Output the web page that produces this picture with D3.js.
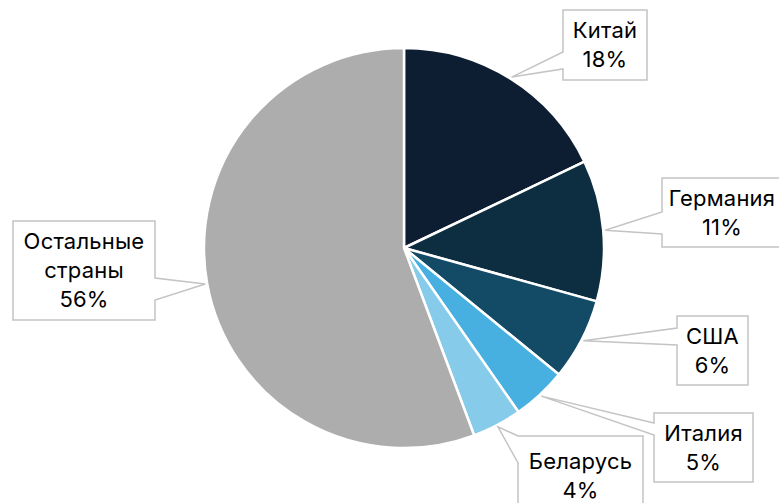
<!DOCTYPE html>
<html>
<head>
<meta charset="utf-8">
<script src="https://cdn.jsdelivr.net/npm/d3@7"></script>
<style>
  body { margin: 0; background: #fff; }
  svg { display: block; }
</style>
</head>
<body>
<svg id="chart" width="779" height="503"></svg>
<script>
// Data
let countries = ['Китай', 'Германия', 'США', 'Италия', 'Беларусь', 'Остальные страны']
let shares = [17.9, 11.4, 6.6, 4.4, 4.0, 55.7]
let shareLabels = ['18%', '11%', '6%', '5%', '4%', '56%']
let colors = ['#0d1e33', '#0d2e41', '#134a66', '#47b0e0', '#86cbea', '#adadad']

// label callouts: box x, y, w, h, side of wedge, wedge base from/to (from box top)
let boxes = [
  [563, 10, 84, 70, 'left', 42, 59],
  [662, 178, 125, 69, 'left', 34, 56],
  [677, 316, 71, 69, 'left', 12, 29],
  [654, 413, 99, 69, 'left', 10, 22],
  [518, 436, 125, 80, 'left', 0, 27],
  [13, 221, 142, 99, 'right', 57, 79]
]

let cx = 404, cy = 248, r = 200

let svg = d3.select('#chart')

let pie = d3.pie().sort(null).value(d => d)
let arcs = pie(shares)
let arcGen = d3.arc().innerRadius(0).outerRadius(r)

svg.append('g')
  .attr('transform', `translate(${cx}, ${cy})`)
  .selectAll('path')
  .data(arcs)
  .join('path')
  .attr('d', arcGen)
  .style('fill', (d, i) => colors[i])
  .style('stroke', '#fff')
  .style('stroke-width', 2.5)
  .style('stroke-linejoin', 'round')

// callouts
let calloutPath = (d, i) => {
  let [x, y, w, h, side, b1, b2] = boxes[i]
  let a = (d.startAngle + d.endAngle) / 2
  let tx = cx + Math.sin(a) * (r + 2)
  let ty = cy - Math.cos(a) * (r + 2)
  let p = d3.path()
  if (side === 'left') {
    p.moveTo(x, y)
    p.lineTo(x + w, y)
    p.lineTo(x + w, y + h)
    p.lineTo(x, y + h)
    p.lineTo(x, y + b2)
    p.lineTo(tx, ty)
    p.lineTo(x, y + b1)
  } else {
    p.moveTo(x, y)
    p.lineTo(x + w, y)
    p.lineTo(x + w, y + b1)
    p.lineTo(tx, ty)
    p.lineTo(x + w, y + b2)
    p.lineTo(x + w, y + h)
    p.lineTo(x, y + h)
  }
  p.closePath()
  return p.toString()
}

let labels = svg.append('g')
  .selectAll('g')
  .data(arcs)
  .join('g')

labels.append('path')
  .attr('d', calloutPath)
  .style('fill', '#fff')
  .style('stroke', '#c4c4c4')
  .style('stroke-width', 1.5)

labels.each(function (d, i) {
  let [x, y, w, h] = boxes[i]
  let words = countries[i] === 'Остальные страны' ? ['Остальные', 'страны'] : [countries[i]]
  let lines = words.concat([shareLabels[i]])
  let lh = 29
  let textX = i === 1 ? x + 8 + 52 : x + w / 2
  let y0 = y + h / 2 - (lines.length - 1) * lh / 2
  d3.select(this)
    .selectAll('text')
    .data(lines)
    .join('text')
    .attr('x', textX)
    .attr('y', (t, j) => y0 + j * lh)
    .attr('dy', '0.36em')
    .attr('text-anchor', 'middle')
    .style('font-family', 'Inter, "Noto Sans", sans-serif')
    .style('font-size', '22px')
    .style('letter-spacing', '0.2px')
    .style('fill', '#000')
    .text(t => t)
})
</script>
</body>
</html>
